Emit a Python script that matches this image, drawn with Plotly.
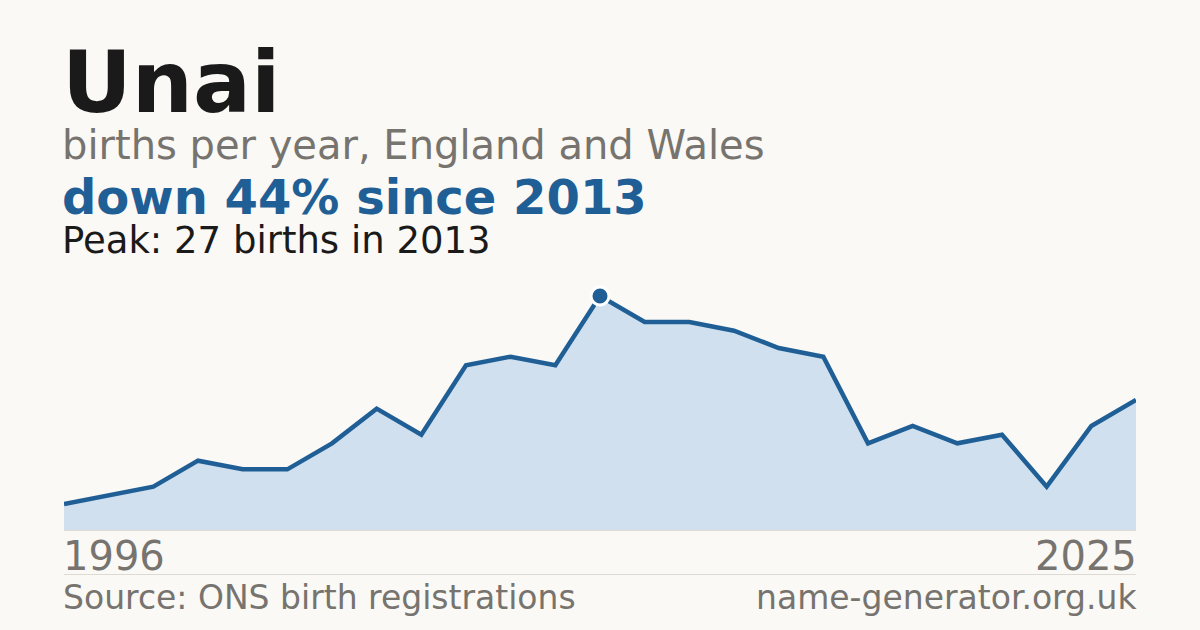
import plotly.graph_objects as go

# births per year for the name, England and Wales (years with too few births are missing)
years = ['1996', '1998', '2000', '2001', '2002', '2003', '2005', '2006', '2008', '2009', '2011', '2012',
         '2013', '2014', '2015', '2016', '2017', '2018', '2019', '2020', '2021', '2022', '2023', '2024', '2025']
births = [3, 4, 5, 8, 7, 7, 10, 14, 11, 19, 20, 19,
          27, 24, 24, 23, 21, 20, 10, 12, 10, 11, 5, 12, 15]

peak_year = '2013'
peak_value = 27

bg = '#faf9f5'
blue = '#1f5f96'
grey = '#77736e'
W, H = 1200, 630


def py(pix):
    # pixel from top -> paper y
    return (H - pix) / H


fig = go.Figure()

fig.add_trace(go.Scatter(x=years, y=births, mode='lines', fill='tozeroy',
                         fillcolor='#d0e0ef', line=dict(color=blue, width=4.5),
                         hoverinfo='skip'))
fig.add_trace(go.Scatter(x=[peak_year], y=[peak_value], mode='markers',
                         marker=dict(color=blue, size=18, symbol='circle',
                                     line=dict(color='white', width=3)),
                         hoverinfo='skip'))

font = 'DejaVu Sans'
texts = [
    ('<b>Unai</b>', 86, '#1a1a1a', 112),
    ('births per year, England and Wales', 40, grey, 159),
    ('<b>down 44% since 2013</b>', 48, blue, 214),
    ('Peak: 27 births in 2013', 37, '#1a1a1a', 253),
]
for txt, size, col, base in texts:
    fig.add_annotation(text=txt, xref='paper', yref='paper', x=61 / W, y=py(base - 0.35 * size),
                       xanchor='left', yanchor='middle', showarrow=False, borderpad=0,
                       font=dict(family=font, size=size, color=col))

# first / last year under the chart (category index positions)
fig.add_annotation(text=years[0], xref='x', yref='paper', x=0, y=py(569.5 - 0.35 * 40),
                   xanchor='left', yanchor='middle', xshift=-3, showarrow=False,
                   font=dict(family=font, size=40, color=grey))
fig.add_annotation(text=years[-1], xref='x', yref='paper', x=len(years) - 1, y=py(569.5 - 0.35 * 40),
                   xanchor='right', yanchor='middle', xshift=3, showarrow=False,
                   font=dict(family=font, size=40, color=grey))

# footer
fig.add_annotation(text='Source: ONS birth registrations', xref='paper', yref='paper',
                   x=61 / W, y=py(609 - 0.35 * 33), xanchor='left', yanchor='middle',
                   showarrow=False, font=dict(family=font, size=33, color=grey))
fig.add_annotation(text='name-generator.org.uk', xref='paper', yref='paper',
                   x=1139 / W, y=py(609 - 0.35 * 33), xanchor='right', yanchor='middle',
                   showarrow=False, font=dict(family=font, size=33, color=grey))

# baseline and separator
fig.add_shape(type='line', xref='paper', yref='paper', x0=64 / W, x1=1136 / W,
              y0=py(530.5), y1=py(530.5), line=dict(color='#dddad4', width=1))
fig.add_shape(type='line', xref='paper', yref='paper', x0=64 / W, x1=1136 / W,
              y0=py(574.5), y1=py(574.5), line=dict(color='#dddad4', width=1))

fig.update_layout(
    width=W, height=H,
    margin=dict(l=0, r=0, t=0, b=0),
    paper_bgcolor=bg, plot_bgcolor=bg,
    showlegend=False,
    xaxis=dict(type='category', domain=[64 / W, 1136 / W], range=[0, len(years) - 1],
               showgrid=False, zeroline=False, showticklabels=False, fixedrange=True),
    yaxis=dict(domain=[py(530), py(270)], range=[0, 30],
               showgrid=False, zeroline=False, showticklabels=False, fixedrange=True),
)

fig.write_html('out.html', config={'displayModeBar': False},
               post_script="document.body.style.margin='0';document.body.style.background='%s';" % bg)
